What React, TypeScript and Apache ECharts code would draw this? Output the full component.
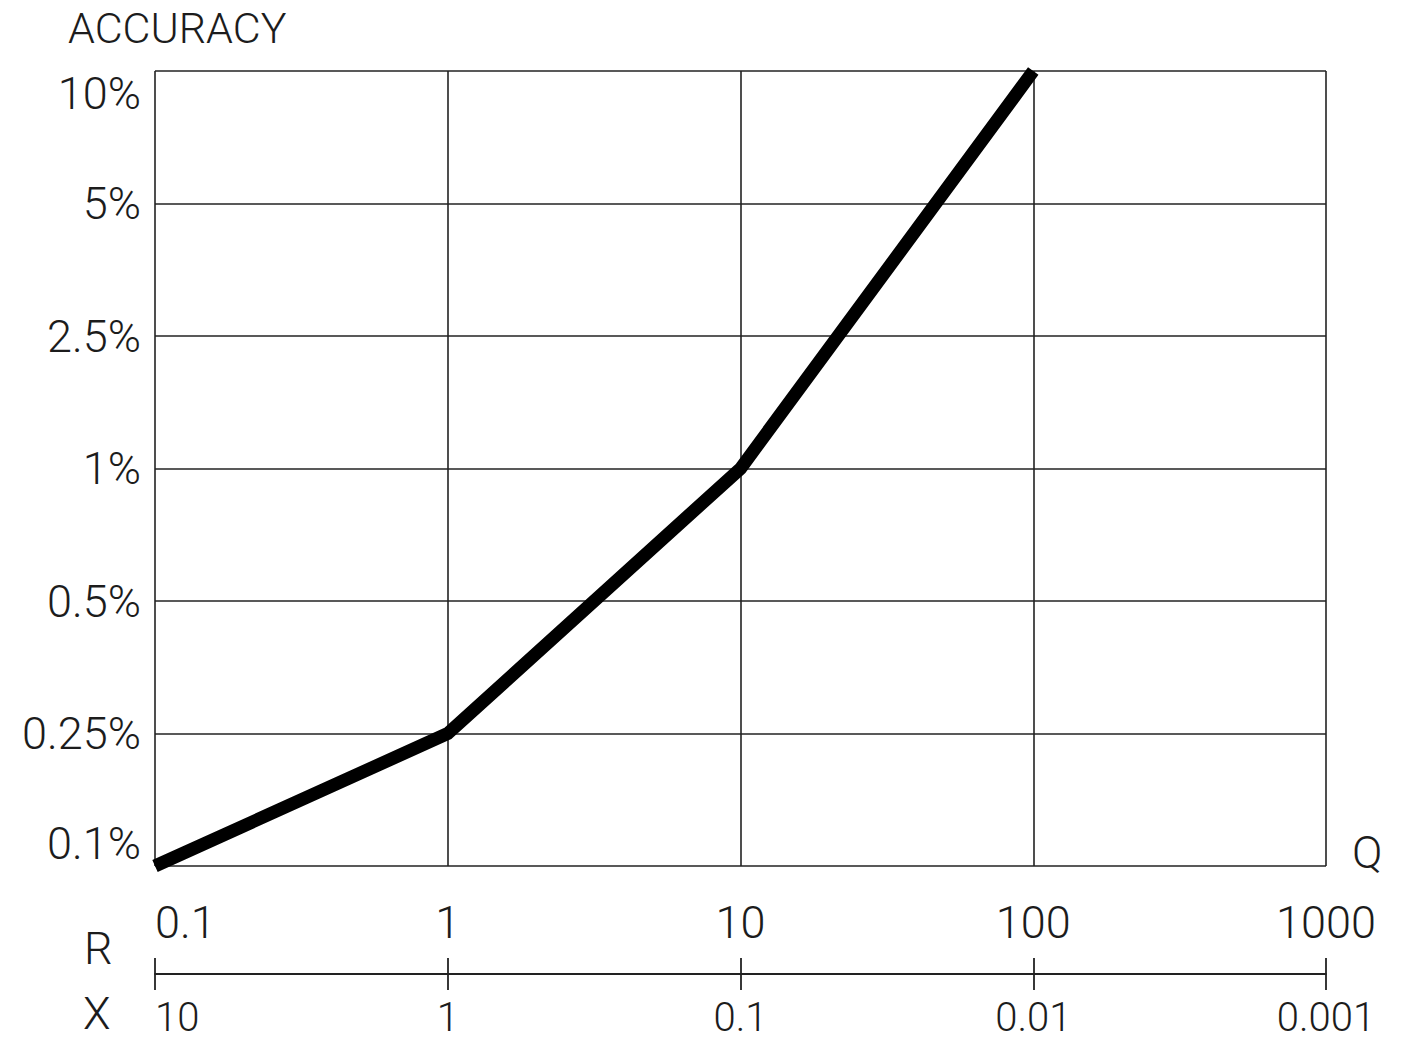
import React, { useEffect, useRef } from "react";
import * as echarts from "echarts";

// ---- data ----
const rValues = [0.1, 1, 10, 100, 1000];
const rLabels = ["0.1", "1", "10", "100", "1000"];
const xLabels = ["10", "1", "0.1", "0.01", "0.001"];
const yLevels = ["0.1%", "0.25%", "0.5%", "1%", "2.5%", "5%", "10%"];
const seriesR = [0.1, 1, 10, 100];
const seriesAccuracy = ["0.1%", "0.25%", "1%", "10%"];

const FONT = "Roboto";
const FW = 300;
const INK = "#1c1c1c";

function nearestLabel(v: number, values: number[], labels: string[]) {
  let best = 0;
  let bd = Infinity;
  for (let i = 0; i < values.length; i++) {
    const d = Math.abs(Math.log10(v) - Math.log10(values[i]));
    if (d < bd) {
      bd = d;
      best = i;
    }
  }
  return labels[best];
}

export default function App() {
  const ref = useRef<HTMLDivElement>(null);
  useEffect(() => {
    if (!ref.current) return;
    const chart = echarts.init(ref.current, undefined, { renderer: "svg" });
    const labelStyle = {
      fontFamily: FONT,
      fontWeight: FW,
      fontSize: 45,
      color: INK,
    };
    const gridLine = { show: true, lineStyle: { color: "#222", width: 1.6 } };
    const textEl = (text: string, x: number, y: number, size = 45) => ({
      type: "text",
      x,
      y,
      style: {
        text,
        fontFamily: FONT,
        fontWeight: FW,
        fontSize: size,
        fill: INK,
        align: "left",
        verticalAlign: "middle",
      },
    });
    chart.setOption({
      animation: false,
      backgroundColor: "#fff",
      grid: { left: 155, right: 75, top: 71, bottom: 178, containLabel: false },
      xAxis: [
        {
          type: "log",
          logBase: 10,
          min: 0.1,
          max: 1000,
          position: "bottom",
          axisLine: { show: false },
          axisTick: { show: false, customValues: rValues },
          splitLine: gridLine,
          axisLabel: {
            ...labelStyle,
            customValues: rValues,
            margin: 34,
            alignMinLabel: "left",
            formatter: (v: number) => nearestLabel(v, rValues, rLabels),
          },
        },
        {
          type: "log",
          logBase: 10,
          min: 0.1,
          max: 1000,
          position: "bottom",
          offset: 108,
          axisLine: { show: true, lineStyle: { color: "#222", width: 1.8 } },
          axisTick: {
            show: true,
            inside: false,
            length: 16,
            customValues: rValues,
            lineStyle: { color: "#222", width: 1.8 },
          },
          splitLine: { show: false },
          axisLabel: {
            ...labelStyle,
            fontSize: 40,
            customValues: rValues,
            margin: 23,
            lineHeight: 40,
            alignMinLabel: "left",
            formatter: (v: number) => nearestLabel(v, rValues, xLabels),
          },
        },
        {
          type: "log",
          logBase: 10,
          min: 0.1,
          max: 1000,
          position: "bottom",
          offset: 108,
          axisLine: { show: false },
          axisTick: {
            show: true,
            inside: true,
            length: 16,
            customValues: rValues,
            lineStyle: { color: "#222", width: 1.8 },
          },
          splitLine: { show: false },
          axisLabel: { show: false },
        },
      ],
      yAxis: {
        type: "category",
        data: yLevels,
        boundaryGap: false,
        axisLine: { show: false },
        axisTick: { show: false },
        splitLine: gridLine,
        axisLabel: {
          ...labelStyle,
          margin: 14,
          interval: 0,
          verticalAlignMinLabel: "bottom",
          verticalAlignMaxLabel: "top",
        },
      },
      graphic: [
        textEl("ACCURACY", 68, 28, 43),
        textEl("Q", 1352, 852),
        textEl("R", 84, 948),
        textEl("X", 83, 1013),
      ],
      series: [
        {
          type: "line",
          xAxisIndex: 0,
          data: seriesR.map((r, i) => [r, seriesAccuracy[i]]),
          showSymbol: false,
          symbol: "none",
          clip: false,
          lineStyle: { color: "#000", width: 13, cap: "butt", join: "miter" },
        },
      ],
    });
    return () => chart.dispose();
  }, []);
  return (
    <div
      ref={ref}
      style={{ position: "fixed", left: 0, top: 0, width: 1401, height: 1044 }}
    />
  );
}
